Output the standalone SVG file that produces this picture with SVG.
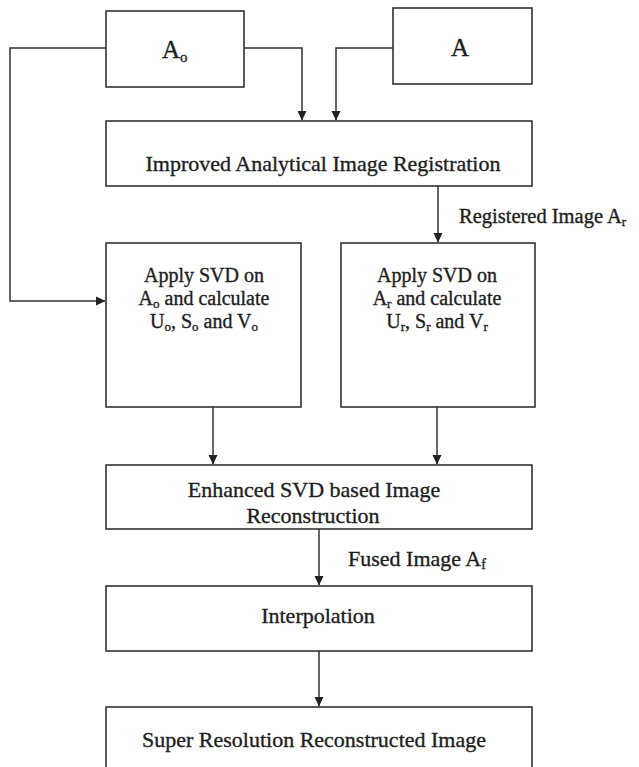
<svg xmlns="http://www.w3.org/2000/svg" width="639" height="767" viewBox="0 0 639 767">
<style>
.box{fill:#fff;stroke:#333;stroke-width:1.6}
.ln{fill:none;stroke:#333;stroke-width:1.5}
text{font-family:"Liberation Serif","DejaVu Serif",serif;fill:#1e1e1e;stroke:#1e1e1e;stroke-width:0.35;font-size:20px}
.L{font-size:22px}
.c{text-anchor:middle}
.s{font-size:13px}
.ls{font-size:14px}
</style>
<defs>
<marker id="ah" markerWidth="10" markerHeight="10" refX="9" refY="5" orient="auto" markerUnits="userSpaceOnUse">
<path d="M0,0.5 L9.5,5 L0,9.5 Z" fill="#222"/>
</marker>
</defs>
<rect width="639" height="767" fill="#fff"/>
<g id="connectors">
<path class="ln" d="M106,48 H10 V301 H105" marker-end="url(#ah)"/>
<path class="ln" d="M244,48 H302 V120" marker-end="url(#ah)"/>
<path class="ln" d="M393,48 H336 V120" marker-end="url(#ah)"/>
<path class="ln" d="M438,186 V242" marker-end="url(#ah)"/>
<path class="ln" d="M213,407 V464" marker-end="url(#ah)"/>
<path class="ln" d="M437,407 V464" marker-end="url(#ah)"/>
<path class="ln" d="M319,529 V585" marker-end="url(#ah)"/>
<path class="ln" d="M319,651 V706" marker-end="url(#ah)"/>
<text x="459" y="223" style="font-size:20.5px">Registered Image A<tspan class="s" dy="3">r</tspan></text>
<text class="L" x="348" y="566">Fused Image A<tspan class="ls" dy="3">f</tspan></text>
</g>
<g id="node-ao">
<rect class="box" x="106" y="11" width="138" height="76"/>
<text x="162" y="58" style="font-size:25px">A<tspan style="font-size:15px" dy="4">o</tspan></text>
</g>
<g id="node-a">
<rect class="box" x="393" y="8" width="139" height="76"/>
<text class="c" x="460" y="56" style="font-size:25px">A</text>
</g>
<g id="node-reg">
<rect class="box" x="106" y="121" width="426" height="65"/>
<text class="c L" x="323" y="171">Improved Analytical Image Registration</text>
</g>
<g id="node-svd-o">
<rect class="box" x="106" y="243" width="195" height="164"/>
<text class="c" x="204" y="282">Apply SVD on</text>
<text class="c" x="204" y="305">A<tspan class="s" dy="3">o</tspan><tspan dy="-3"> and calculate</tspan></text>
<text class="c" x="204" y="328">U<tspan class="s" dy="3">o</tspan><tspan dy="-3">, S</tspan><tspan class="s" dy="3">o</tspan><tspan dy="-3">  and V</tspan><tspan class="s" dy="3">o</tspan></text>
</g>
<g id="node-svd-r">
<rect class="box" x="341" y="243" width="194" height="164"/>
<text class="c" x="437" y="282">Apply SVD on</text>
<text class="c" x="437" y="305">A<tspan class="s" dy="3">r</tspan><tspan dy="-3">  and calculate</tspan></text>
<text class="c" x="437" y="328">U<tspan class="s" dy="3">r</tspan><tspan dy="-3">, S</tspan><tspan class="s" dy="3">r</tspan><tspan dy="-3">  and V</tspan><tspan class="s" dy="3">r</tspan></text>
</g>
<g id="node-enh">
<rect class="box" x="106" y="465" width="426" height="64"/>
<text class="c L" x="314" y="497">Enhanced SVD based Image</text>
<text class="c L" x="313" y="523">Reconstruction</text>
</g>
<g id="node-interp">
<rect class="box" x="106" y="586" width="426" height="65"/>
<text class="c L" x="318" y="623">Interpolation</text>
</g>
<g id="node-sr">
<rect class="box" x="106" y="707" width="426" height="70"/>
<text class="c L" x="314" y="747">Super Resolution Reconstructed Image</text>
</g>
</svg>
